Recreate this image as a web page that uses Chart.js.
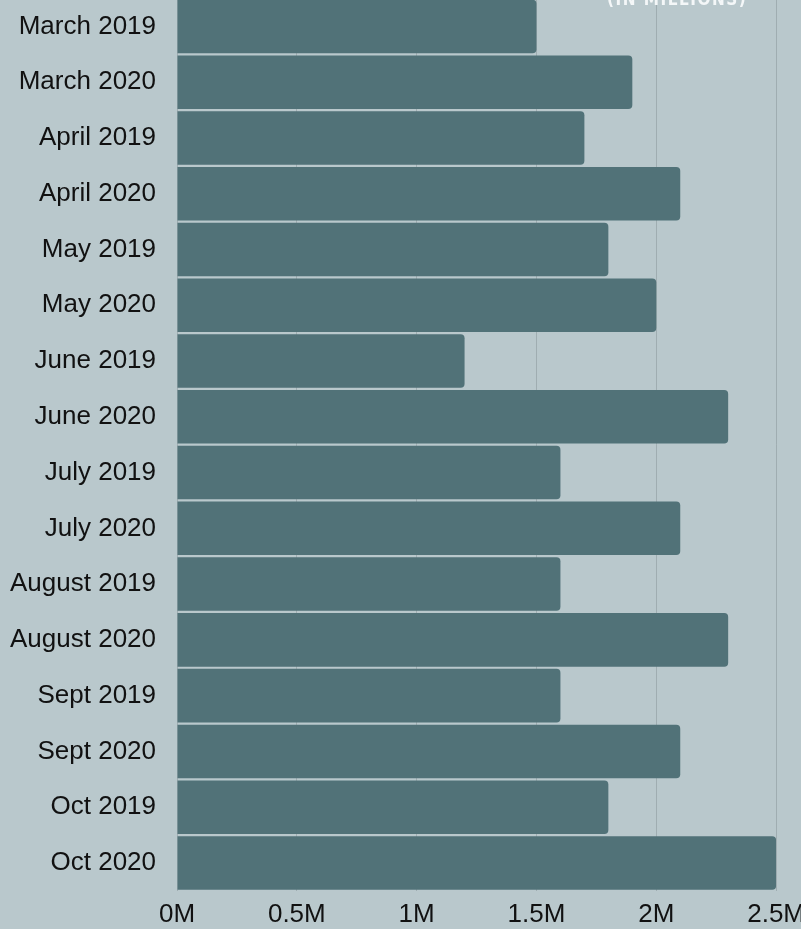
<!DOCTYPE html>
<html>
<head>
<meta charset="utf-8">
<script src="https://cdn.jsdelivr.net/npm/chart.js@4/dist/chart.umd.min.js"></script>
<style>
    html, body {
        margin: 0;
        padding: 0;
        width: 801px;
        height: 929px;
        overflow: hidden;
        background: #b9c8cc;
    }
    #wrap {
        position: absolute;
        left: -19px;
        top: -38px;
        width: 832px;
        height: 976px;
    }
    #unit {
        position: absolute;
        top: -9px;
        left: 607px;
        font-family: "Liberation Sans Narrow", "DejaVu Sans Condensed", sans-serif;
        font-weight: bold;
        font-size: 17px;
        line-height: 17px;
        letter-spacing: 1.5px;
        color: #f4f7f8;
        white-space: nowrap;
    }
</style>
</head>
<body>
<div id="wrap"><canvas id="monthly_users"></canvas></div>
<div id="unit">(IN MILLIONS)</div>
<script>
const months = [
    "March 2019", "March 2020", "April 2019", "April 2020",
    "May 2019", "May 2020", "June 2019", "June 2020",
    "July 2019", "July 2020", "August 2019", "August 2020",
    "Sept 2019", "Sept 2020", "Oct 2019", "Oct 2020"
]
const users = [1.5, 1.9, 1.7, 2.1, 1.8, 2.0, 1.2, 2.3, 1.6, 2.1, 1.6, 2.3, 1.6, 2.1, 1.8, 2.5]
const xTicks = [0, 0.5, 1, 1.5, 2, 2.5]

const labelFont = {family: "'Liberation Sans', Arial, sans-serif", size: 26}

function create_bar_chart(ctx, xValues, yValues) {
    const data = {
        labels: xValues,
        datasets: [{
            data: yValues,
            backgroundColor: "#517278",
            borderRadius: 4,
            barPercentage: 0.96,
            categoryPercentage: 1
        }]
    }

    const config = {
        type: "bar",
        data: data,
        options: {
            indexAxis: "y",
            responsive: true,
            maintainAspectRatio: false,
            animation: false,
            layout: {padding: {left: 8, top: 0, right: 0, bottom: 0}},
            plugins: {
                legend: {display: false},
                tooltip: {enabled: false}
            },
            scales: {
                x: {
                    min: xTicks[0],
                    max: xTicks[xTicks.length - 1],
                    afterBuildTicks: (axis) => {
                        axis.ticks = xTicks.map(v => ({value: v}))
                    },
                    grid: {color: "#9fadb1", drawTicks: false},
                    border: {display: false},
                    ticks: {
                        color: "#111",
                        font: labelFont,
                        padding: 8,
                        maxRotation: 0,
                        callback: (v) => v + "M"
                    }
                },
                y: {
                    grid: {display: false, drawTicks: false},
                    border: {display: false},
                    ticks: {
                        color: "#111",
                        font: labelFont,
                        padding: 21
                    }
                }
            }
        }
    }
    return new Chart(ctx, config)
}

create_bar_chart(document.querySelector("#monthly_users"), months, users)
</script>
</body>
</html>
